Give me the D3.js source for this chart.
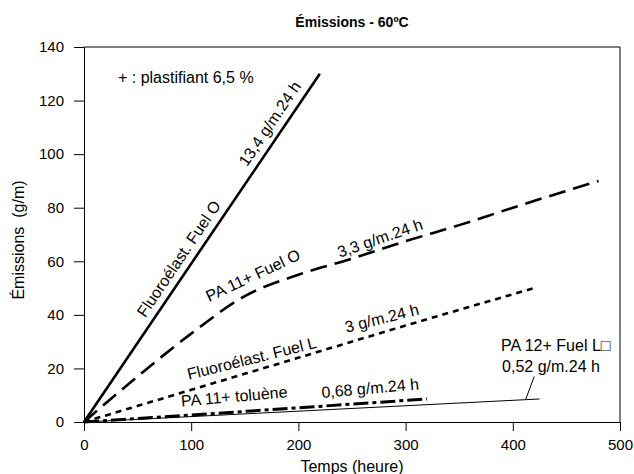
<!doctype html>
<html lang="fr">
<head>
  <meta charset="utf-8">
  <title>Émissions - 60ºC</title>
  <script src="https://d3js.org/d3.v7.min.js"></script>
  <style>
    body { margin: 0; background: #fff; }
    svg text { font-family: "Liberation Sans", Arial, Helvetica, sans-serif; fill: #000; }
  </style>
</head>
<body>
<svg id="chart" width="634" height="474"></svg>
<script>
  // values (time in hours, emissions in g/m)
  var fuelOFluoro = [[0, 0], [220, 130]];
  var fuelOPA11 = [[0, 0], [50, 17], [100, 33], [150, 47], [200, 55], [250, 61], [300, 67.5], [350, 73.5], [400, 80], [480, 90]];
  var fuelLFluoro = [[0, 0], [100, 12], [200, 24], [300, 36], [420, 50]];
  var tolPA11 = [[0, 0], [100, 2.6], [200, 5.3], [320, 8.6]];
  var fuelLPA12 = [[0, 0], [425, 8.6]];

  var xTicks = [0, 100, 200, 300, 400, 500];
  var yTicks = [0, 20, 40, 60, 80, 100, 120, 140];

  var svg = d3.select("#chart");
  var margin = {top: 47, right: 14, bottom: 52, left: 84};
  var width = +svg.attr("width") - margin.left - margin.right;
  var height = +svg.attr("height") - margin.top - margin.bottom;

  var x = d3.scaleLinear().domain([0, 500]).range([0, width]);
  var y = d3.scaleLinear().domain([0, 140]).range([height, 0]);

  var g = svg.append("g").attr("transform", "translate(" + margin.left + "," + margin.top + ")");

  // frame top / right
  g.append("line").attr("x1", 0).attr("x2", width).attr("y1", 0).attr("y2", 0).attr("stroke", "#000");
  g.append("line").attr("x1", width).attr("x2", width).attr("y1", 0).attr("y2", height).attr("stroke", "#000");

  var xAxis = g.append("g").attr("transform", "translate(0," + height + ")")
    .call(d3.axisBottom(x).tickValues(xTicks).tickSize(9).tickPadding(8));
  var yAxis = g.append("g")
    .call(d3.axisLeft(y).tickValues(yTicks).tickSize(10).tickPadding(10));
  [xAxis, yAxis].forEach(function(a) {
    a.select(".domain").attr("stroke", "#000");
    a.selectAll(".tick line").attr("stroke", "#000");
    a.selectAll(".tick text").style("font-size", "15px").attr("fill", "#000");
  });

  var line = d3.line().x(function(d) { return x(d[0]); }).y(function(d) { return y(d[1]); });
  var curve = d3.line().curve(d3.curveMonotoneX).x(function(d) { return x(d[0]); }).y(function(d) { return y(d[1]); });

  g.append("path").datum(fuelOFluoro).attr("d", line)
    .attr("fill", "none").attr("stroke", "#000").attr("stroke-width", 2.6);
  g.append("path").datum(fuelOPA11).attr("d", curve)
    .attr("fill", "none").attr("stroke", "#000").attr("stroke-width", 2.6).attr("stroke-dasharray", "17,8");
  g.append("path").datum(fuelLFluoro).attr("d", curve)
    .attr("fill", "none").attr("stroke", "#000").attr("stroke-width", 2.6).attr("stroke-dasharray", "6,5");
  g.append("path").datum(tolPA11).attr("d", line)
    .attr("fill", "none").attr("stroke", "#000").attr("stroke-width", 3).attr("stroke-dasharray", "15,4,4,4");
  g.append("path").datum(fuelLPA12).attr("d", line)
    .attr("fill", "none").attr("stroke", "#000").attr("stroke-width", 1);

  // leader line for the PA 12 label
  g.append("line")
    .attr("x1", x(412)).attr("y1", y(8.4)).attr("x2", x(420)).attr("y2", y(17))
    .attr("stroke", "#000").attr("stroke-width", 1);

  // labels along the curves: [text, x, y (baseline middle), angle]
  var notes = [
    ["Fluoroélast. Fuel O", 95.8, 59, -56],
    ["13,4 g/m.24 h", 180.7, 109.4, -56],
    ["PA 11+ Fuel O", 161.4, 51.5, -25],
    ["3,3 g/m.24 h", 279, 65.3, -19],
    ["Fluoroélast. Fuel L", 158.6, 20.3, -14],
    ["3 g/m.24 h", 280, 35.3, -14],
    ["PA 11+ toluène", 140.9, 6.0, -5],
    ["0,68 g/m.24 h", 267.7, 9.1, -5]
  ];
  g.selectAll(".note").data(notes).enter().append("text")
    .attr("class", "note")
    .attr("text-anchor", "middle")
    .attr("dy", -4)
    .style("font-size", "16px")
    .attr("transform", function(d) { return "translate(" + x(d[1]) + "," + y(d[2]) + ") rotate(" + d[3] + ")"; })
    .text(function(d) { return d[0]; });

  g.append("text").attr("x", x(389)).attr("y", y(28.7)).attr("dy", "0.35em")
    .style("font-size", "16px").text("PA 12+ Fuel L\u25A1");
  g.append("text").attr("x", x(390)).attr("y", y(20.9)).attr("dy", "0.35em")
    .style("font-size", "16px").text("0,52 g/m.24 h");
  g.append("text").attr("x", x(31.7)).attr("y", y(128.8)).attr("dy", "0.35em")
    .style("font-size", "16px").text("+ : plastifiant 6,5 %");

  // titles
  svg.append("text").attr("x", margin.left + width / 2).attr("y", 27)
    .attr("text-anchor", "middle").style("font-size", "14px").style("font-weight", "bold")
    .text("Émissions - 60ºC");
  svg.append("text").attr("x", margin.left + width / 2).attr("y", 472)
    .attr("text-anchor", "middle").style("font-size", "16px")
    .text("Temps (heure)");
  svg.append("text")
    .attr("transform", "translate(24,240) rotate(-90)")
    .attr("text-anchor", "middle").style("font-size", "16px")
    .text("Émissions \u00A0(g/m)");
</script>
</body>
</html>
